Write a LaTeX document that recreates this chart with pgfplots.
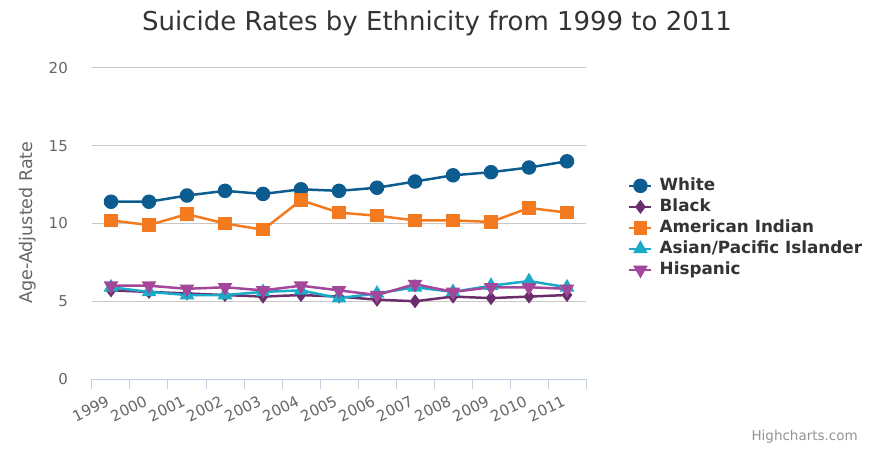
\documentclass[border=0pt]{standalone}
\usepackage{pgfplots}
\pgfplotsset{compat=1.18}
\usepackage{pgfplotstable}
\usepackage{fontspec}
\setmainfont{DejaVu Sans}
\definecolor{cWhite}{HTML}{0C5C90}
\definecolor{cBlack}{HTML}{6B2D6B}
\definecolor{cAmInd}{HTML}{F47A20}
\definecolor{cAsian}{HTML}{1BAAC8}
\definecolor{cHisp}{HTML}{A3479A}
\definecolor{gridgray}{HTML}{C8C8C8}
\definecolor{axisblue}{HTML}{C0D0E0}
\definecolor{txtgray}{HTML}{666666}
\definecolor{titlegray}{HTML}{333333}
\pgfplotstableread{
x White Black AmInd Asian Hisp
0 11.4 5.7 10.2 5.9 6.0
1 11.4 5.6 9.9 5.6 6.0
2 11.8 5.5 10.6 5.4 5.8
3 12.1 5.4 10.0 5.4 5.9
4 11.9 5.3 9.6 5.6 5.7
5 12.2 5.4 11.5 5.7 6.0
6 12.1 5.3 10.7 5.2 5.7
7 12.3 5.1 10.5 5.5 5.4
8 12.7 5.0 10.2 5.9 6.1
9 13.1 5.3 10.2 5.6 5.6
10 13.3 5.2 10.1 6.0 5.9
11 13.6 5.3 11.0 6.3 5.9
12 14.0 5.4 10.7 5.9 5.8
}\datatable
\begin{document}
\begin{tikzpicture}
\path[use as bounding box] (-92bp,-71bp) rectangle (780bp,379bp);
\begin{axis}[
  at={(0,0)}, anchor=south west,
  scale only axis, width=494bp, height=311bp,
  xmin=-0.5, xmax=12.5, ymin=0, ymax=20,
  axis x line=bottom, axis y line=left,
  x axis line style={draw=axisblue, line width=1bp, -},
  y axis line style={draw=none},
  ytick={0,5,10,15,20},
  ymajorgrids, grid style={draw=gridgray, line width=1bp},
  xtick={0,...,12},
  xticklabels={1999,2000,2001,2002,2003,2004,2005,2006,2007,2008,2009,2010,2011},
  minor xtick={-0.5,0.5,...,12.5},
  major x tick style={draw=none},
  major y tick style={draw=none},
  minor x tick style={draw=axisblue, line width=1bp},
  tick align=outside,
  minor tick length=10bp,
  major tick length=0bp,
  /pgf/number format/assume math mode=true,
  yticklabel style={font=\fontsize{15bp}{18bp}\selectfont, text=txtgray, anchor=east, inner sep=0pt, xshift=-24bp},
  xticklabel style={font=\fontsize{15bp}{18bp}\selectfont, text=txtgray, rotate=26, anchor=north east, inner sep=0pt, yshift=-12bp, xshift=-12bp},
  ylabel={Age-Adjusted Rate},
  every axis y label/.style={at={(axis description cs:-0.1296,0.503)}, anchor=center, rotate=90, font=\fontsize{17.5bp}{20bp}\selectfont, text=txtgray},
  legend cell align=left,
  legend style={draw=none, fill=none, at={(1.085,0.486)}, anchor=west,
    font=\fontsize{16.8bp}{19bp}\selectfont\bfseries, text=titlegray, inner sep=0pt,
    row sep=6bp,
    nodes={inner sep=0pt, text height=12bp, text depth=3bp},
    /tikz/every odd column/.append style={column sep=7bp}},
  legend image code/.code={\draw[mark repeat=2, mark phase=2] plot coordinates {(0bp,0bp) (11bp,0bp) (22bp,0bp)};},
  every axis plot/.append style={line width=2.5bp},
  clip=false,
]
\addplot[color=cWhite, mark=*, mark size=6bp, mark options={solid}] table[x=x, y=White] {\datatable};
\addlegendentry{White}
\addplot[color=cBlack, mark=diamond*, mark size=5bp] table[x=x, y=Black] {\datatable};
\addlegendentry{Black}
\addplot[color=cAmInd, mark=square*, mark size=5.5bp] table[x=x, y=AmInd] {\datatable};
\addlegendentry{American Indian}
\addplot[color=cAsian, mark=triangle*, mark size=6bp] table[x=x, y=Asian] {\datatable};
\addlegendentry{Asian/Pacific Islander}
\addplot[color=cHisp, mark=triangle*, mark size=6bp, mark options={rotate=180}] table[x=x, y=Hisp] {\datatable};
\addlegendentry{Hispanic}
\end{axis}
\node[font=\fontsize{26bp}{30bp}\selectfont, text=titlegray] at (345bp,356bp) {Suicide Rates by Ethnicity from 1999 to 2011};
\node[font=\fontsize{13.5bp}{15bp}\selectfont, text=gray!85, anchor=east, inner sep=0pt] at (766bp,-58bp) {Highcharts.com};
\end{tikzpicture}
\end{document}
